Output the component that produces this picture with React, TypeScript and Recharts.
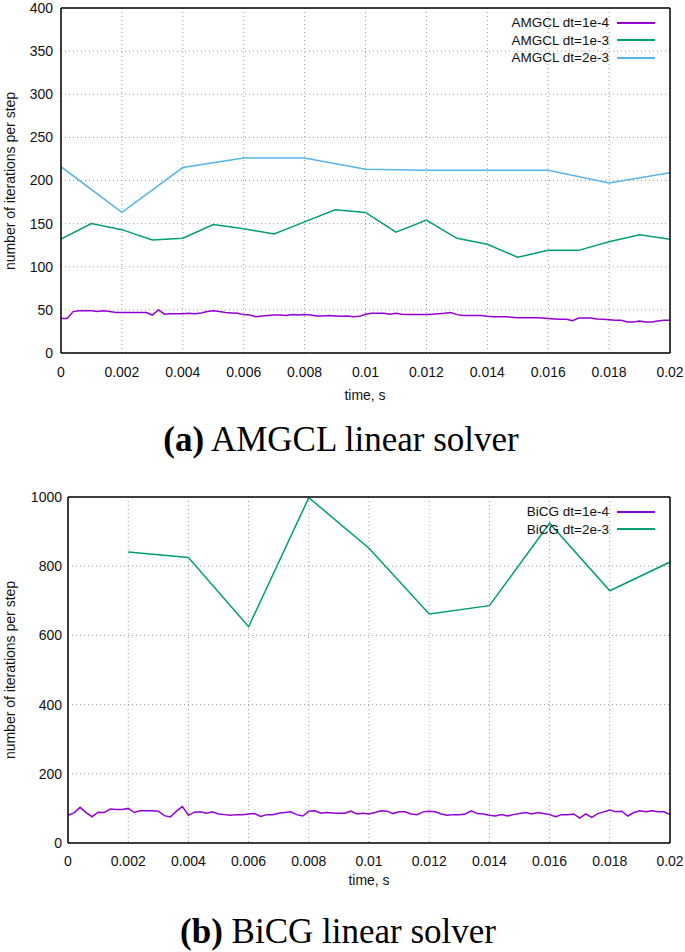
import { LineChart, Line, XAxis, YAxis, CartesianGrid, Legend } from 'recharts';

const FONT = '"Liberation Sans", Arial, sans-serif';
const SERIF = '"Liberation Serif", "Times New Roman", serif';

// time axis ticks, shared by both panels
const TIME_TICKS = [0, 0.002, 0.004, 0.006, 0.008, 0.01, 0.012, 0.014, 0.016, 0.018, 0.02];
const AMGCL_Y_TICKS = [0, 50, 100, 150, 200, 250, 300, 350, 400];
const BICG_Y_TICKS = [0, 200, 400, 600, 800, 1000];

// sample times of the three step sizes
const T_FINE = Array.from({ length: 101 }, (_, i) => i * 0.0002);
const T_1E3 = Array.from({ length: 21 }, (_, i) => i * 0.001);
const T_2E3 = TIME_TICKS;
const T_2E3_FROM = TIME_TICKS.slice(1);

// (a) AMGCL
const AMGCL_1E4 = [
  40, 40, 48, 49, 49, 49, 48, 49, 48, 47,
  47, 47, 47, 47, 47, 44, 50, 45, 45.5, 45.5,
  45.5, 46, 45.5, 46.5, 48, 49, 48, 47, 46.5, 46,
  44.5, 44, 42, 43, 43.5, 44, 44, 43.5, 44.5, 44,
  44.5, 44, 43, 43, 43.5, 43, 42.5, 43, 42, 42.5,
  45, 46, 46, 46, 45, 46, 45, 44.5, 44.5, 44.5,
  44.5, 45, 45.5, 46, 47, 44.5, 43.5, 43.5, 43.5, 43.5,
  42.5, 42, 42, 42, 41.5, 41, 41, 41, 41, 40.5,
  40, 39.5, 39, 39, 37.5, 40.5, 40.5, 40.5, 39.5, 39,
  38.5, 38, 38, 36, 36, 37, 36, 36, 37, 38,
  38,
];
const AMGCL_1E3 = [132, 150, 143, 131, 133, 149, 144, 138, 152, 166, 163, 140, 154, 133, 126, 111, 119, 119, 129, 137, 132];
const AMGCL_2E3 = [216, 163, 215, 226, 226, 213, 212, 212, 212, 197, 209];

// (b) BiCG
const BICG_1E4 = [
  80, 87, 103, 88, 76, 89, 88, 98, 97, 97,
  100, 88, 93, 93, 93, 92, 79, 75, 92, 105,
  80, 89, 90, 86, 90, 84, 82, 80, 82, 82,
  84, 85, 77, 82, 82, 86, 88, 90, 82, 78,
  92, 93, 86, 88, 87, 86, 86, 92, 84, 86,
  84, 88, 93, 92, 85, 90, 90, 84, 82, 90,
  92, 90, 84, 80, 82, 82, 84, 93, 85, 84,
  80, 78, 82, 78, 82, 85, 88, 84, 88, 85,
  82, 76, 82, 82, 84, 72, 84, 74, 85, 90,
  95, 90, 92, 78, 88, 93, 90, 93, 90, 90,
  82,
];
const BICG_2E3 = [841, 825, 625, 998, 852, 662, 686, 924, 729, 812];

const PURPLE = '#9400d3';
const GREEN = '#009e73';
const BLUE = '#56b4e9';

const AMGCL_KEY = [
  { name: 'AMGCL dt=1e-4', color: PURPLE },
  { name: 'AMGCL dt=1e-3', color: GREEN },
  { name: 'AMGCL dt=2e-3', color: BLUE },
];
const BICG_KEY = [
  { name: 'BiCG dt=1e-4', color: PURPLE },
  { name: 'BiCG dt=2e-3', color: GREEN },
];

const pts = (ts: number[], vs: number[]) => ts.map((t, i) => ({ t, v: vs[i] }));

const fmt = (v: number) => String(v);

function KeyBox({ items }: { items: Array<{ name: string; color: string }> }) {
  return (
    <div style={{ fontFamily: FONT, fontSize: 13.5, color: '#111' }}>
      {items.map((p) => (
        <div key={p.name} style={{ display: 'flex', alignItems: 'center', justifyContent: 'flex-end', height: 17.5 }}>
          <span style={{ whiteSpace: 'nowrap' }}>{p.name}</span>
          <span style={{ display: 'inline-block', width: 38, height: 2, background: p.color, marginLeft: 8 }} />
        </div>
      ))}
    </div>
  );
}

// gnuplot-like box: labels on left/bottom, inward ticks on all four sides
function frameAxes(yTicks: number[], yMax: number, yWidth: number, yGap: number, xGap: number) {
  const xd: [number, number] = [0, 0.02];
  const yd: [number, number] = [0, yMax];
  const tickFont = { fontSize: 14, fill: '#111', fontFamily: FONT };
  const edge = { stroke: '#000', strokeWidth: 1.5 };
  return [
    <XAxis key="x" xAxisId="x" type="number" dataKey="t" domain={xd} ticks={TIME_TICKS} interval={0} allowDataOverflow
      tickFormatter={fmt} tick={tickFont} tickLine={false} tickSize={6} tickMargin={xGap} axisLine={edge} height={30} />,
    <XAxis key="xb" xAxisId="xb" type="number" domain={xd} ticks={TIME_TICKS} interval={0} allowDataOverflow
      mirror tick={false} tickSize={6} tickLine={edge} axisLine={false} />,
    <XAxis key="xt" xAxisId="xt" orientation="top" type="number" domain={xd} ticks={TIME_TICKS} interval={0} allowDataOverflow
      mirror tick={false} tickSize={6} tickLine={edge} axisLine={edge} />,
    <YAxis key="y" yAxisId="y" type="number" domain={yd} ticks={yTicks} interval={0} allowDataOverflow
      width={yWidth} tick={tickFont} tickLine={false} tickSize={6} tickMargin={yGap} axisLine={edge} />,
    <YAxis key="yl" yAxisId="yl" type="number" domain={yd} ticks={yTicks} interval={0} allowDataOverflow
      mirror tick={false} tickSize={6} tickLine={edge} axisLine={false} />,
    <YAxis key="yr" yAxisId="yr" orientation="right" type="number" domain={yd} ticks={yTicks} interval={0} allowDataOverflow
      mirror tick={false} tickSize={6} tickLine={edge} axisLine={edge} />,
  ];
}

const textStyle = { position: 'absolute' as const, fontFamily: FONT, fontSize: 14, lineHeight: '16px', color: '#111', whiteSpace: 'nowrap' as const, transform: 'translate(-50%, -50%)' };
const yLabelStyle = { ...textStyle, transform: 'translate(-50%, -50%) rotate(-90deg)' };
const captionStyle = { position: 'absolute' as const, fontFamily: SERIF, fontSize: 35, lineHeight: '36px', color: '#000', whiteSpace: 'nowrap' as const, transform: 'translate(-50%, -50%)' };

export default function App() {
  return (
    <div style={{ position: 'absolute', left: 0, top: 0, width: 685, height: 952, background: '#fff' }}>
      <div style={{ position: 'absolute', left: 0, top: 0 }}>
        <LineChart width={685} height={385} margin={{ top: 8, right: 15, left: 0, bottom: 2 }}>
          <CartesianGrid xAxisId="x" yAxisId="y" stroke="#9a9a9a" strokeDasharray="1 3" />
          {frameAxes(AMGCL_Y_TICKS, 400, 61, 2, 8)}
          <Legend layout="horizontal" align="center" verticalAlign="middle" content={<KeyBox items={AMGCL_KEY} />}
            wrapperStyle={{ top: 14, right: 30, left: 'auto', width: 'auto', height: 'auto' }} />
          <Line xAxisId="x" yAxisId="y" data={pts(T_FINE, AMGCL_1E4)} dataKey="v" name={AMGCL_KEY[0].name} stroke={PURPLE} strokeWidth={1.5} dot={false} isAnimationActive={false} />
          <Line xAxisId="x" yAxisId="y" data={pts(T_1E3, AMGCL_1E3)} dataKey="v" name={AMGCL_KEY[1].name} stroke={GREEN} strokeWidth={1.5} dot={false} isAnimationActive={false} />
          <Line xAxisId="x" yAxisId="y" data={pts(T_2E3, AMGCL_2E3)} dataKey="v" name={AMGCL_KEY[2].name} stroke={BLUE} strokeWidth={1.5} dot={false} isAnimationActive={false} />
        </LineChart>
      </div>
      <div style={{ ...yLabelStyle, left: 10, top: 181 }}>number of iterations per step</div>
      <div style={{ ...textStyle, left: 365, top: 395 }}>time, s</div>
      <div style={{ ...captionStyle, left: 341, top: 440 }}><b>(a)</b> AMGCL linear solver</div>

      <div style={{ position: 'absolute', left: 0, top: 478 }}>
        <LineChart width={685} height={400} margin={{ top: 19, right: 15, left: 0, bottom: 5 }}>
          <CartesianGrid xAxisId="x" yAxisId="y" stroke="#9a9a9a" strokeDasharray="1 3" />
          {frameAxes(BICG_Y_TICKS, 1000, 68, 0, 7)}
          <Legend layout="horizontal" align="center" verticalAlign="middle" content={<KeyBox items={BICG_KEY} />}
            wrapperStyle={{ top: 25, right: 30, left: 'auto', width: 'auto', height: 'auto' }} />
          <Line xAxisId="x" yAxisId="y" data={pts(T_FINE, BICG_1E4)} dataKey="v" name={BICG_KEY[0].name} stroke={PURPLE} strokeWidth={1.5} dot={false} isAnimationActive={false} />
          <Line xAxisId="x" yAxisId="y" data={pts(T_2E3_FROM, BICG_2E3)} dataKey="v" name={BICG_KEY[1].name} stroke={GREEN} strokeWidth={1.5} dot={false} isAnimationActive={false} />
        </LineChart>
      </div>
      <div style={{ ...yLabelStyle, left: 10, top: 670 }}>number of iterations per step</div>
      <div style={{ ...textStyle, left: 369, top: 880 }}>time, s</div>
      <div style={{ ...captionStyle, left: 338, top: 932 }}><b>(b)</b> BiCG linear solver</div>
    </div>
  );
}
